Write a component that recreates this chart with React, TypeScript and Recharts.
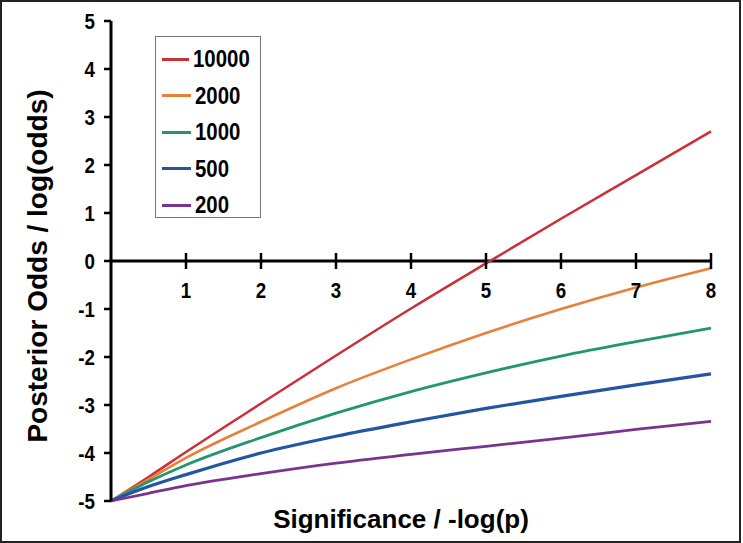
import { LineChart, Line, XAxis, YAxis, ReferenceLine, ReferenceDot, Legend } from 'recharts';

const xValues = [0, 0.5, 1, 2, 3, 4, 5, 6, 7, 8];
const odds10000 = [-5, -4.5, -3.98, -2.97, -1.97, -0.99, -0.05, 0.88, 1.79, 2.7];
const odds2000 = [-5, -4.55, -4.1, -3.35, -2.65, -2.05, -1.5, -1.0, -0.55, -0.15];
const odds1000 = [-5, -4.6, -4.25, -3.68, -3.17, -2.72, -2.33, -1.98, -1.68, -1.4];
const odds500 = [-5, -4.7, -4.45, -4.0, -3.65, -3.35, -3.07, -2.82, -2.58, -2.35];
const odds200 = [-5, -4.84, -4.68, -4.43, -4.21, -4.03, -3.86, -3.69, -3.51, -3.34];

const xTicks = [1, 2, 3, 4, 5, 6, 7, 8];
const yTicks = [-5, -4, -3, -2, -1, 0, 1, 2, 3, 4, 5];

const series = [
  { key: 'n10000', name: '10000', color: '#cc2f37', values: odds10000, width: 2.5 },
  { key: 'n2000', name: '2000', color: '#e8803a', values: odds2000, width: 2.6 },
  { key: 'n1000', name: '1000', color: '#23966f', values: odds1000, width: 2.8 },
  { key: 'n500', name: '500', color: '#2455a3', values: odds500, width: 3.2 },
  { key: 'n200', name: '200', color: '#7a3490', values: odds200, width: 2.8 },
];

const data = xValues.map((x, i) => {
  const row: Record<string, number> = { x };
  series.forEach(s => { row[s.key] = s.values[i]; });
  return row;
});

const FONT = '"Liberation Sans", Arial, sans-serif';
const SQUEEZE = 0.85;

function XTick(props: any) {
  const { cx, cy, label } = props;
  return (
    <g>
      <line x1={cx} y1={cy - 8} x2={cx} y2={cy + 8} stroke="#000" strokeWidth={2.5} />
      <text transform={`translate(${cx},${cy + 37}) scale(${SQUEEZE},1)`} textAnchor="middle" fontFamily={FONT} fontWeight="bold" fontSize={22} fill="#000">
        {label}
      </text>
    </g>
  );
}

function YTick(props: any) {
  const { x, y, payload } = props;
  return (
    <text transform={`translate(${x},${y}) scale(${SQUEEZE},1)`} textAnchor="end" dominantBaseline="central" fontFamily={FONT} fontWeight="bold" fontSize={22} fill="#000">
      {payload.value}
    </text>
  );
}

function LegendBox() {
  return (
    <div style={{ border: '1px solid #777', width: 106, height: 182, boxSizing: 'border-box', background: '#fff', paddingTop: 4 }}>
      {series.map(s => (
        <div key={s.key} style={{ display: 'flex', alignItems: 'center', height: 36.5 }}>
          <div style={{ width: 29, height: 3, background: s.color, marginLeft: 6, marginRight: 4 }} />
          <span style={{ display: 'inline-block', transform: `scaleX(${SQUEEZE})`, transformOrigin: 'left center', fontFamily: FONT, fontWeight: 'bold', fontSize: 24, color: '#000' }}>{s.name}</span>
        </div>
      ))}
    </div>
  );
}

export default function App() {
  return (
    <div style={{ position: 'absolute', left: 0, top: 0, width: 743, height: 543, background: '#fff' }}>
      <LineChart width={743} height={543} data={data} margin={{ top: 21, right: 32, bottom: 0, left: 0 }}>
        <XAxis
          dataKey="x"
          type="number"
          domain={[0, 8]}
          ticks={xTicks}
          tick={false}
          axisLine={false}
          tickLine={false}
          height={42}
          label={(p: any) => {
            const vb = p.viewBox;
            return (
              <text x={vb.x + vb.width / 2 - 10} y={vb.y + 27} textAnchor="middle" fontFamily={FONT} fontWeight="bold" fontSize={26} fill="#000">
                Significance / -log(p)
              </text>
            );
          }}
        />
        <YAxis
          type="number"
          domain={[-5, 5]}
          ticks={yTicks}
          interval={0}
          width={111}
          axisLine={{ stroke: '#000', strokeWidth: 3 }}
          tickLine={{ stroke: '#000', strokeWidth: 2.5 }}
          tickSize={7}
          tickMargin={9}
          tick={<YTick />}
          label={(p: any) => {
            const vb = p.viewBox;
            const cx = vb.x + 37;
            const cy = vb.y + vb.height / 2 + 5;
            return (
              <text x={cx} y={cy} transform={`rotate(-90 ${cx} ${cy})`} textAnchor="middle" dominantBaseline="central" fontFamily={FONT} fontWeight="bold" fontSize={28} fill="#000">
                Posterior Odds / log(odds)
              </text>
            );
          }}
        />
        <ReferenceLine y={0} stroke="#000" strokeWidth={3} />
        {xTicks.map(t => (
          <ReferenceDot key={t} x={t} y={0} r={0} shape={(p: any) => <XTick {...p} label={t} />} />
        ))}
        {series.map(s => (
          <Line
            key={s.key}
            dataKey={s.key}
            name={s.name}
            type="monotone"
            stroke={s.color}
            strokeWidth={s.width}
            dot={false}
            isAnimationActive={false}
          />
        ))}
        <Legend
          layout="horizontal"
          verticalAlign="middle"
          content={() => <LegendBox />}
          wrapperStyle={{ position: 'absolute', left: 155, top: 36, width: 106, height: 182 }}
        />
      </LineChart>
      <div style={{ position: 'absolute', left: 0, top: 0, width: 741, height: 543, border: '2px solid #222', boxSizing: 'border-box', pointerEvents: 'none' }} />
    </div>
  );
}
